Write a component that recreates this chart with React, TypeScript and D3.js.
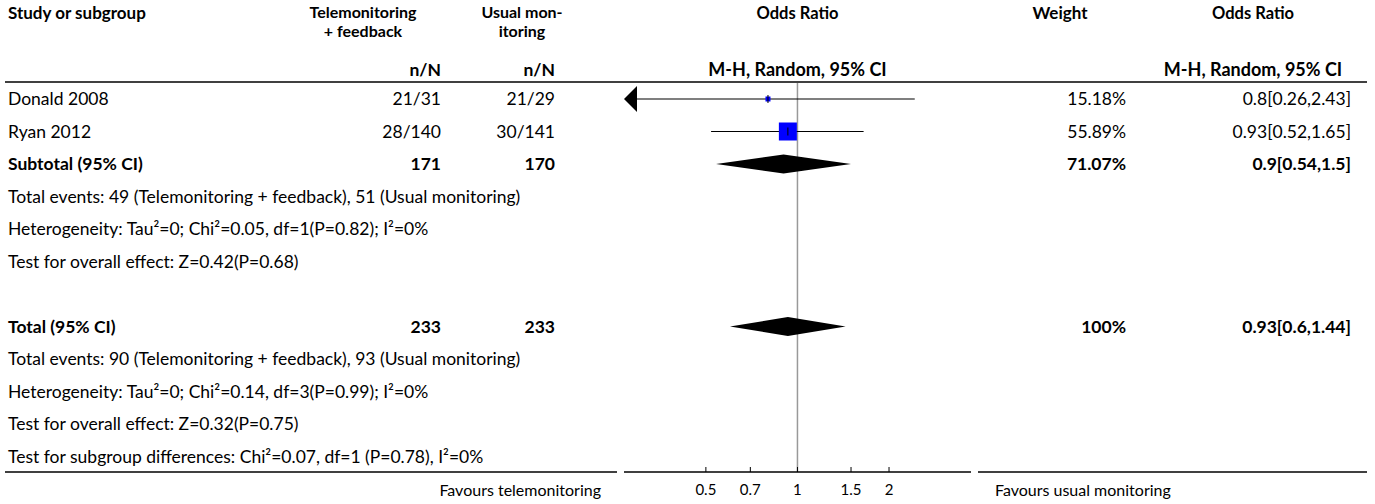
import React, { useEffect, useRef } from 'react';
import * as d3 from 'd3';

// study rows
const studies = ['Donald 2008', 'Ryan 2012'];
const treatCounts = ['21/31', '28/140'];
const controlCounts = ['21/29', '30/141'];
const oddsRatios = [0.8, 0.93];
const ciLow = [0.26, 0.52];
const ciHigh = [2.43, 1.65];
const weights = [15.18, 55.89];

// pooled rows
const pooledLabels = ['Subtotal (95% CI)', 'Total (95% CI)'];
const pooledTreatN = [171, 233];
const pooledControlN = [170, 233];
const pooledOR = [0.9, 0.93];
const pooledLow = [0.54, 0.6];
const pooledHigh = [1.5, 1.44];
const pooledWeight = ['71.07%', '100%'];
const pooledText = ['0.9[0.54,1.5]', '0.93[0.6,1.44]'];

const subtotalNotes = [
  'Total events: 49 (Telemonitoring + feedback), 51 (Usual monitoring)',
  'Heterogeneity: Tau²=0; Chi²=0.05, df=1(P=0.82); I²=0%',
  'Test for overall effect: Z=0.42(P=0.68)',
];
const totalNotes = [
  'Total events: 90 (Telemonitoring + feedback), 93 (Usual monitoring)',
  'Heterogeneity: Tau²=0; Chi²=0.14, df=3(P=0.99); I²=0%',
  'Test for overall effect: Z=0.32(P=0.75)',
  'Test for subgroup differences: Chi²=0.07, df=1 (P=0.78), I²=0%',
];

const axisTicks = [0.5, 0.7, 1, 1.5, 2];
const axisDomain = [0.269, 3.72];

const FONT = 'Lato, "Noto Sans", sans-serif';
const FS = 17.5;
const HEAD_FS = 16;

export default function App() {
  const svgRef = useRef<SVGSVGElement | null>(null);

  useEffect(() => {
    if (!svgRef.current) return;
    const W = 1375;
    const H = 504;
    const svg = d3.select(svgRef.current);
    svg.selectAll('*').remove();
    svg.attr('width', W).attr('height', H).style('font-family', FONT);

    // columns
    const col = {
      study: 8,
      treat: 441,
      ctrl: 555,
      plotL: 624,
      plotR: 971,
      weight: 1126,
      orText: 1351,
    };
    const treatHead = 363;
    const ctrlHead = 522;
    const plotMid = (col.plotL + col.plotR) / 2;
    const orHead = 1253;

    const x = d3.scaleLog().domain(axisDomain).range([col.plotL, col.plotR]);
    const rowY = d3.scalePoint<number>().domain(d3.range(12)).range([99, 456.5]);
    const boxSize = d3.scaleLinear().domain([0, 55.89]).range([0, 18]);

    const text = (
      s: string,
      tx: number,
      ty: number,
      anchor = 'start',
      bold = false,
      size = FS
    ) =>
      svg
        .append('text')
        .attr('x', tx)
        .attr('y', ty)
        .attr('dy', '0.35em')
        .attr('text-anchor', anchor)
        .attr('font-size', size)
        .attr('font-weight', bold ? 700 : 400)
        .attr('fill', '#000')
        .text(s);

    // header
    text('Study or subgroup', col.study, 13, 'start', true, 17);
    text('Telemonitoring', treatHead, 12, 'middle', true, HEAD_FS);
    text('+ feedback', treatHead, 31, 'middle', true, HEAD_FS);
    text('Usual mon-', ctrlHead, 12, 'middle', true, HEAD_FS);
    text('itoring', ctrlHead, 31, 'middle', true, HEAD_FS);
    text('Odds Ratio', plotMid, 13, 'middle', true, 16.5);
    text('Weight', 1060, 13, 'middle', true, 17);
    text('Odds Ratio', orHead, 13, 'middle', true, 16.5);
    text('n/N', col.treat, 70, 'end', true);
    text('n/N', col.ctrl, 70, 'end', true);
    text('M-H, Random, 95% CI', plotMid, 70, 'middle', true, 18);
    text('M-H, Random, 95% CI', orHead, 70, 'middle', true, 18);

    svg.append('line')
      .attr('x1', 5).attr('x2', 1367)
      .attr('y1', 82).attr('y2', 82)
      .attr('stroke', '#000').attr('stroke-width', 1.5);

    // null line
    svg.append('line')
      .attr('x1', x(1)).attr('x2', x(1))
      .attr('y1', 83).attr('y2', 472)
      .attr('stroke', '#999').attr('stroke-width', 1.5);

    // study rows
    studies.forEach((s, i) => {
      const y = rowY(i)!;
      text(s, col.study, y);
      text(treatCounts[i], col.treat, y, 'end');
      text(controlCounts[i], col.ctrl, y, 'end');
      text(weights[i].toFixed(2) + '%', col.weight, y, 'end');
      text(`${oddsRatios[i]}[${ciLow[i]},${ciHigh[i]}]`, col.orText, y, 'end');

      const lo = Math.max(ciLow[i], axisDomain[0]);
      const hi = Math.min(ciHigh[i], axisDomain[1]);
      const x1 = ciLow[i] < axisDomain[0] ? x(lo) + 12 : x(lo);
      svg.append('line')
        .attr('x1', x1).attr('x2', x(hi))
        .attr('y1', y).attr('y2', y)
        .attr('stroke', '#000').attr('stroke-width', 1.2);
      if (ciLow[i] < axisDomain[0]) {
        const ax = x(lo);
        svg.append('path')
          .attr('d', `M${ax},${y}L${ax + 13},${y - 13}L${ax + 13},${y + 13}Z`)
          .attr('fill', '#000');
      }
      const b = Math.max(boxSize(weights[i]), 5);
      svg.append('rect')
        .attr('x', x(oddsRatios[i]) - b / 2)
        .attr('y', y - b / 2)
        .attr('width', b).attr('height', b)
        .attr('fill', '#0000ff');
      svg.append('line')
        .attr('x1', x(oddsRatios[i])).attr('x2', x(oddsRatios[i]))
        .attr('y1', y - 4).attr('y2', y + 4)
        .attr('stroke', '#000').attr('stroke-width', 1);
    });

    // pooled rows: subtotal at row 2, total at row 7
    [2, 7].forEach((r, i) => {
      const y = rowY(r)!;
      text(pooledLabels[i], col.study, y, 'start', true);
      text(String(pooledTreatN[i]), col.treat, y, 'end', true);
      text(String(pooledControlN[i]), col.ctrl, y, 'end', true);
      text(pooledWeight[i], col.weight, y, 'end', true);
      text(pooledText[i], col.orText, y, 'end', true);
      const h = 9.5;
      const d = `M${x(pooledLow[i])},${y}L${x(pooledOR[i])},${y - h}L${x(pooledHigh[i])},${y}L${x(pooledOR[i])},${y + h}Z`;
      svg.append('path').attr('d', d).attr('fill', '#000');
    });

    subtotalNotes.forEach((s, i) => text(s, col.study, rowY(3 + i)!));
    totalNotes.forEach((s, i) => text(s, col.study, rowY(8 + i)!));

    // bottom rule + axis
    const yAxis = 472;
    [[5, 617], [col.plotL, col.plotR], [978, 1367]].forEach(([a, b]) => {
      svg.append('line')
        .attr('x1', a).attr('x2', b)
        .attr('y1', yAxis).attr('y2', yAxis)
        .attr('stroke', '#000').attr('stroke-width', 1.5);
    });
    axisTicks.forEach((t) => {
      svg.append('line')
        .attr('x1', x(t)).attr('x2', x(t))
        .attr('y1', yAxis - 5).attr('y2', yAxis)
        .attr('stroke', '#000').attr('stroke-width', 1);
      text(String(t), x(t), 490, 'middle', false, 15);
    });
    text('Favours telemonitoring', 601, 490, 'end', false, 16);
    text('Favours usual monitoring', 995, 490, 'start', false, 16);
  }, []);

  return (
    <div style={{ position: 'absolute', left: 0, top: 0 }}>
      <svg ref={svgRef} style={{ display: 'block' }} />
    </div>
  );
}
